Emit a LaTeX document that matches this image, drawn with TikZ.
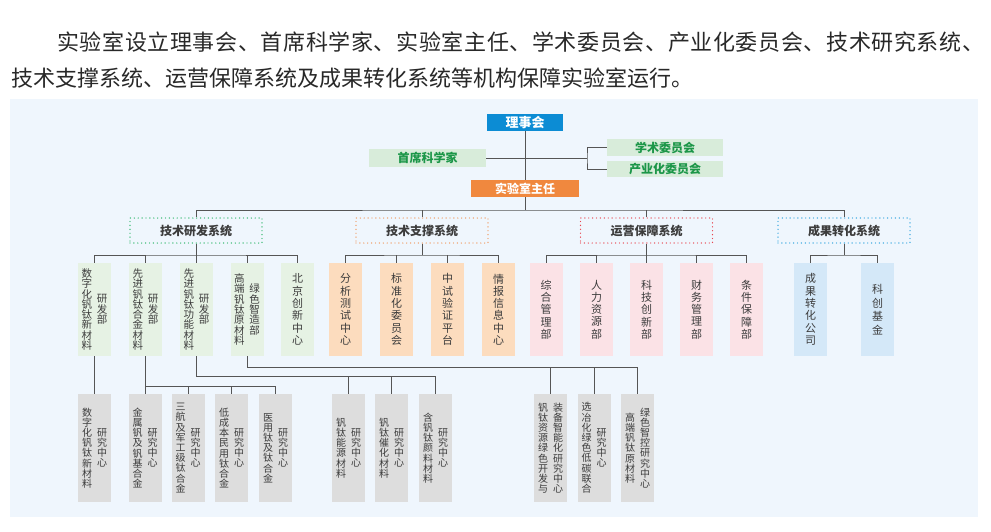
\documentclass[tikz,border=0pt]{standalone}
\usepackage{fontspec}
\setmainfont{Noto Sans CJK SC}
\ExplSyntaxOn
\NewDocumentCommand\vt{mm}{
  \tl_set:Nn \l_tmpa_tl {}
  \tl_map_inline:nn {#2} { \tl_put_right:Nn \l_tmpa_tl {##1\par} }
  \parbox[c]{1.2em}{\centering \baselineskip=#1pt \relax \l_tmpa_tl}
}
\NewDocumentCommand\spreadline{mm}{
  \tl_set:Nn \l_tmpb_tl {}
  \tl_map_inline:nn {#2} { \tl_put_right:Nn \l_tmpb_tl {##1\hfill} }
  \makebox[#1][l]{\l_tmpb_tl\unskip}
}
\ExplSyntaxOff
\definecolor{panel}{RGB}{239,246,253}
\definecolor{lsblue}{RGB}{12,140,212}
\definecolor{zrorange}{RGB}{240,136,62}
\definecolor{lgreen}{RGB}{216,236,218}
\definecolor{dgreen}{RGB}{28,150,72}
\definecolor{gn2}{RGB}{230,242,228}
\definecolor{peach}{RGB}{252,220,190}
\definecolor{pinkc}{RGB}{251,226,230}
\definecolor{lblue}{RGB}{212,232,248}
\definecolor{grayc}{RGB}{221,221,221}
\definecolor{lc}{RGB}{85,85,85}
\definecolor{tx}{RGB}{60,60,60}
\definecolor{tp}{RGB}{40,40,40}
\definecolor{dotg}{RGB}{40,180,100}
\definecolor{doto}{RGB}{240,150,90}
\definecolor{dotr}{RGB}{232,70,80}
\definecolor{dotb}{RGB}{40,160,220}
\tikzset{
  ln/.style={draw=lc, line width=1pt},
  para/.style={anchor=west, inner sep=0pt, text=tp, font=\fontsize{22}{26}\selectfont},
  topbox/.style={rectangle, inner sep=0pt, font=\fontsize{12}{14}\selectfont\bfseries},
  sys/.style={rectangle, inner sep=0pt, minimum width=132pt, minimum height=25pt,
    line width=1.4pt, dash pattern=on 0pt off 3.9pt, line cap=round,
    font=\fontsize{12}{14}\selectfont\bfseries, text=tx},
  lvtwo/.style={rectangle, inner sep=0pt, minimum width=33pt, minimum height=93pt, text=tx},
  one/.style={font=\fontsize{11}{12}\selectfont},
  two/.style={font=\fontsize{10.5}{10.5}\selectfont},
  lvthree/.style={rectangle, inner sep=0pt, fill=grayc, minimum width=33pt, minimum height=108pt,
    text=tx, font=\fontsize{10}{10}\selectfont},
}
\begin{document}
\begin{tikzpicture}[x=1pt,y=-1pt]
\useasboundingbox (0,0) rectangle (991,531);
\fill[white] (0,0) rectangle (991,531);
% paragraph
\node[para] (p1) at (57,42)
  {\spreadline{927pt}{实验室设立理事会、首席科学家、实验室主任、学术委员会、产业化委员会、技术研究系统、}};
\node[para] (p2) at (11,78)
  {技术支撑系统、运营保障系统及成果转化系统等机构保障实验室运行。};
% panel
\fill[panel] (10,99) rectangle (978,517);
% top level
\node[topbox, fill=lsblue, text=white, minimum width=76pt, minimum height=17pt,
  font=\fontsize{13}{15}\selectfont\bfseries] (lsh) at (525,122.5) {理事会};
\node[topbox, fill=lgreen, text=dgreen, minimum width=117pt, minimum height=18pt] (sx) at (427.5,158) {首席科学家};
\node[topbox, fill=lgreen, text=dgreen, minimum width=116pt, minimum height=17pt] (xs) at (665,147.5) {学术委员会};
\node[topbox, fill=lgreen, text=dgreen, minimum width=116pt, minimum height=16pt] (cy) at (665,169) {产业化委员会};
\node[topbox, fill=zrorange, text=white, minimum width=108pt, minimum height=17pt] (zr) at (525,188.5) {实验室主任};
\coordinate (br) at (587,158);
\coordinate (bus) at (525,210);
\draw[ln] (lsh.south) -- (zr.north);
\draw[ln] (sx.east) -- (br);
\draw[ln] (xs.west) -| (br) |- (cy.west);
\draw[ln] (zr.south) -- (bus);
% systems
\node[sys, draw=dotg] (s1) at (196,230.5) {技术研发系统};
\node[sys, draw=doto] (s2) at (422,230.5) {技术支撑系统};
\node[sys, draw=dotr] (s3) at (646.5,230.5) {运营保障系统};
\node[sys, draw=dotb] (s4) at (844,230.5) {成果转化系统};
\draw[ln] (s1.north) |- (bus) -| (s4.north);
\draw[ln] (s2.north) -- (s2.north |- bus);
\draw[ln] (s3.north) -- (s3.north |- bus);
% level 2 : 技术研发
\node[lvtwo, two, fill=gn2] (a1) at (94.5,309.5) {\vt{10.3}{数字化钒钛新材料}\hspace{2.5pt}\vt{10.3}{研发部}};
\node[lvtwo, two, fill=gn2] (a2) at (145.5,309.5) {\vt{10.3}{先进钒钛合金材料}\hspace{2.5pt}\vt{10.3}{研发部}};
\node[lvtwo, two, fill=gn2] (a3) at (196.5,309.5) {\vt{10.3}{先进钒钛功能材料}\hspace{2.5pt}\vt{10.3}{研发部}};
\node[lvtwo, two, fill=gn2] (a4) at (247,309.5) {\vt{10.3}{高端钒钛原材料}\hspace{2.5pt}\vt{10.3}{绿色智造部}};
\node[lvtwo, one, fill=gn2] (a5) at (297.5,309.5) {\vt{12.3}{北京创新中心}};
\coordinate (ba) at (196,255);
\draw[ln] (s1.south) -- (ba);
\draw[ln] (a1.north) |- (ba) -| (a5.north);
\foreach \n in {a2,a3,a4} \draw[ln] (\n.north) -- (\n.north |- ba);
% level 2 : 技术支撑
\node[lvtwo, one, fill=peach] (b1) at (345.5,309.5) {\vt{12.3}{分析测试中心}};
\node[lvtwo, one, fill=peach] (b2) at (396.5,309.5) {\vt{12.3}{标准化委员会}};
\node[lvtwo, one, fill=peach] (b3) at (447.5,309.5) {\vt{12.3}{中试验证平台}};
\node[lvtwo, one, fill=peach] (b4) at (498.5,309.5) {\vt{12.3}{情报信息中心}};
\coordinate (bb) at (422,255);
\draw[ln] (s2.south) -- (bb);
\draw[ln] (b1.north) |- (bb) -| (b4.north);
\foreach \n in {b2,b3} \draw[ln] (\n.north) -- (\n.north |- bb);
% level 2 : 运营保障
\node[lvtwo, one, fill=pinkc] (d1) at (546,309.5) {\vt{12.3}{综合管理部}};
\node[lvtwo, one, fill=pinkc] (d2) at (596.5,309.5) {\vt{12.3}{人力资源部}};
\node[lvtwo, one, fill=pinkc] (d3) at (646.5,309.5) {\vt{12.3}{科技创新部}};
\node[lvtwo, one, fill=pinkc] (d4) at (696.5,309.5) {\vt{12.3}{财务管理部}};
\node[lvtwo, one, fill=pinkc] (d5) at (746.5,309.5) {\vt{12.3}{条件保障部}};
\coordinate (bd) at (646.5,255);
\draw[ln] (s3.south) -- (bd);
\draw[ln] (d1.north) |- (bd) -| (d5.north);
\foreach \n in {d2,d3,d4} \draw[ln] (\n.north) -- (\n.north |- bd);
% level 2 : 成果转化
\node[lvtwo, one, fill=lblue] (e1) at (810.5,309.5) {\vt{12.3}{成果转化公司}};
\node[lvtwo, one, fill=lblue] (e2) at (877.5,309.5) {\vt{13.5}{科创基金}};
\coordinate (be) at (844,255);
\draw[ln] (s4.south) -- (be);
\draw[ln] (e1.north) |- (be) -| (e2.north);
% level 3
\node[lvthree] (c1) at (94.5,448) {\vt{10.2}{数字化钒钛新材料}\hspace{3pt}\vt{10.2}{研究中心}};
\node[lvthree] (c2) at (145,448) {\vt{10.2}{金属钒及钒基合金}\hspace{3pt}\vt{10.2}{研究中心}};
\node[lvthree] (c3) at (188,448) {\vt{10.2}{三航及军工级钛合金}\hspace{3pt}\vt{10.2}{研究中心}};
\node[lvthree] (c4) at (231.5,448) {\vt{10.2}{低成本民用钛合金}\hspace{3pt}\vt{10.2}{研究中心}};
\node[lvthree] (c5) at (275.5,448) {\vt{10.2}{医用钛及钛合金}\hspace{3pt}\vt{10.2}{研究中心}};
\node[lvthree] (c6) at (348.5,448) {\vt{10.2}{钒钛能源材料}\hspace{3pt}\vt{10.2}{研究中心}};
\node[lvthree] (c7) at (391.5,448) {\vt{10.2}{钒钛催化材料}\hspace{3pt}\vt{10.2}{研究中心}};
\node[lvthree] (c8) at (435.5,448) {\vt{10.2}{含钒钛颜料材料}\hspace{3pt}\vt{10.2}{研究中心}};
\node[lvthree] (c9) at (550.5,448) {\vt{10.2}{钒钛资源绿色开发与}\hspace{3pt}\vt{10.2}{装备智能化研究中心}};
\node[lvthree] (c10) at (594,448) {\vt{10.2}{选冶化绿色低碳联合}\hspace{3pt}\vt{10.2}{研究中心}};
\node[lvthree] (c11) at (637.5,448) {\vt{10.2}{高端钒钛原材料}\hspace{3pt}\vt{10.2}{绿色智控研究中心}};
% level 3 connectors
\draw[ln] (a1.south) -- (c1.north);
\coordinate (k2) at (145,386);
\draw[ln] (a2.south) -- (a2.south |- k2) -| (c5.north);
\foreach \n in {c2,c3,c4} \draw[ln] (\n.north) -- (\n.north |- k2);
\coordinate (k3) at (196.5,376);
\draw[ln] (a3.south) -- (k3) -| (c8.north);
\foreach \n in {c6,c7} \draw[ln] (\n.north) -- (\n.north |- k3);
\coordinate (k4) at (247,367);
\draw[ln] (a4.south) -- (k4) -| (c11.north);
\foreach \n in {c9,c10} \draw[ln] (\n.north) -- (\n.north |- k4);
\end{tikzpicture}
\end{document}
